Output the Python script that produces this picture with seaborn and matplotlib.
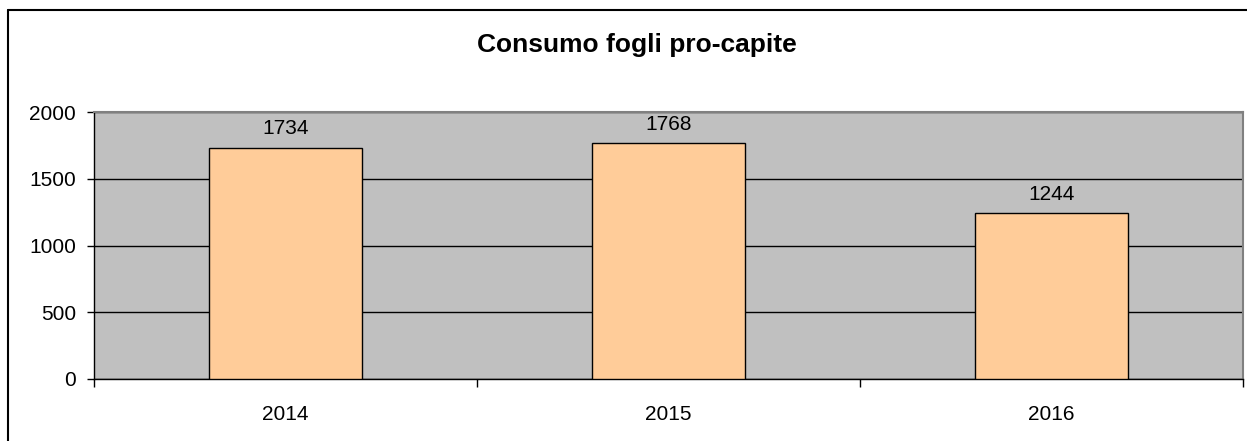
import matplotlib
matplotlib.use("Agg")
import matplotlib.pyplot as plt
import seaborn as sns
import pandas as pd
from matplotlib.lines import Line2D

years = ["2014", "2015", "2016"]
values = [1734, 1768, 1244]
title = "Consumo fogli pro-capite"

sns.set_style("white")
plt.rcParams['font.family'] = ['Liberation Sans', 'DejaVu Sans']
plt.rcParams['text.color'] = 'black'
plt.rcParams['xtick.color'] = 'black'
plt.rcParams['ytick.color'] = 'black'
plt.rcParams['axes.labelcolor'] = 'black'

W, H = 1247, 441
fig = plt.figure(figsize=(W / 100, H / 100), dpi=100)
ax = fig.add_axes([94 / W, 1 - 379 / H, (1243 - 94) / W, (379 - 112) / H])

df = pd.DataFrame({"year": years, "value": values})
sns.barplot(data=df, x="year", y="value", ax=ax, color="#FFCC99",
            saturation=1, width=0.4, edgecolor="black", linewidth=1.0, zorder=3)

ax.set_facecolor("#C0C0C0")
ax.set_axisbelow(True)
ax.set_ylim(0, 2000)
ax.set_xlim(-0.5, len(years) - 0.5)
ax.set_yticks([0, 500, 1000, 1500, 2000])
ax.yaxis.grid(True, color="black", linewidth=1.0, zorder=1)
ax.xaxis.grid(False)

# x ticks: marks at category boundaries, labels at centers
ax.set_xticks([i - 0.5 for i in range(len(years) + 1)])
ax.set_xticklabels([""] * (len(years) + 1))
ax.set_xticks(range(len(years)), minor=True)
ax.set_xticklabels(years, minor=True)
ax.tick_params(axis="x", which="major", direction="out", length=6, width=1, color="black", bottom=True)
ax.tick_params(axis="x", which="minor", length=0, pad=19, labelsize=15, labelcolor="black")
ax.tick_params(axis="y", direction="out", length=5, width=1, color="black", left=True, pad=8,
               labelsize=15, labelcolor="black")

ax.set_xlabel("")
ax.set_ylabel("")

for side in ["left", "bottom"]:
    ax.spines[side].set_color("black")
    ax.spines[side].set_linewidth(1.0)
for side in ["top", "right"]:
    ax.spines[side].set_visible(True)
    ax.spines[side].set_color("#808080")
    ax.spines[side].set_linewidth(1.5)

for c in ax.containers:
    ax.bar_label(c, labels=[str(v) for v in values], padding=6.5, fontsize=15, color="black")

fig.text(637 / W, 1 - 45 / H, title, ha="center", va="center",
         fontsize=19, fontweight="bold", color="black")

# figure frame (top and left visible)
fig.add_artist(Line2D([8 / W, 1.01], [1 - 10 / H, 1 - 10 / H], transform=fig.transFigure,
                      color="black", linewidth=1.5))
fig.add_artist(Line2D([8 / W, 8 / W], [1 - 10 / H, -0.01], transform=fig.transFigure,
                      color="black", linewidth=1.5))

fig.savefig("out.png", dpi=100, facecolor="white")
